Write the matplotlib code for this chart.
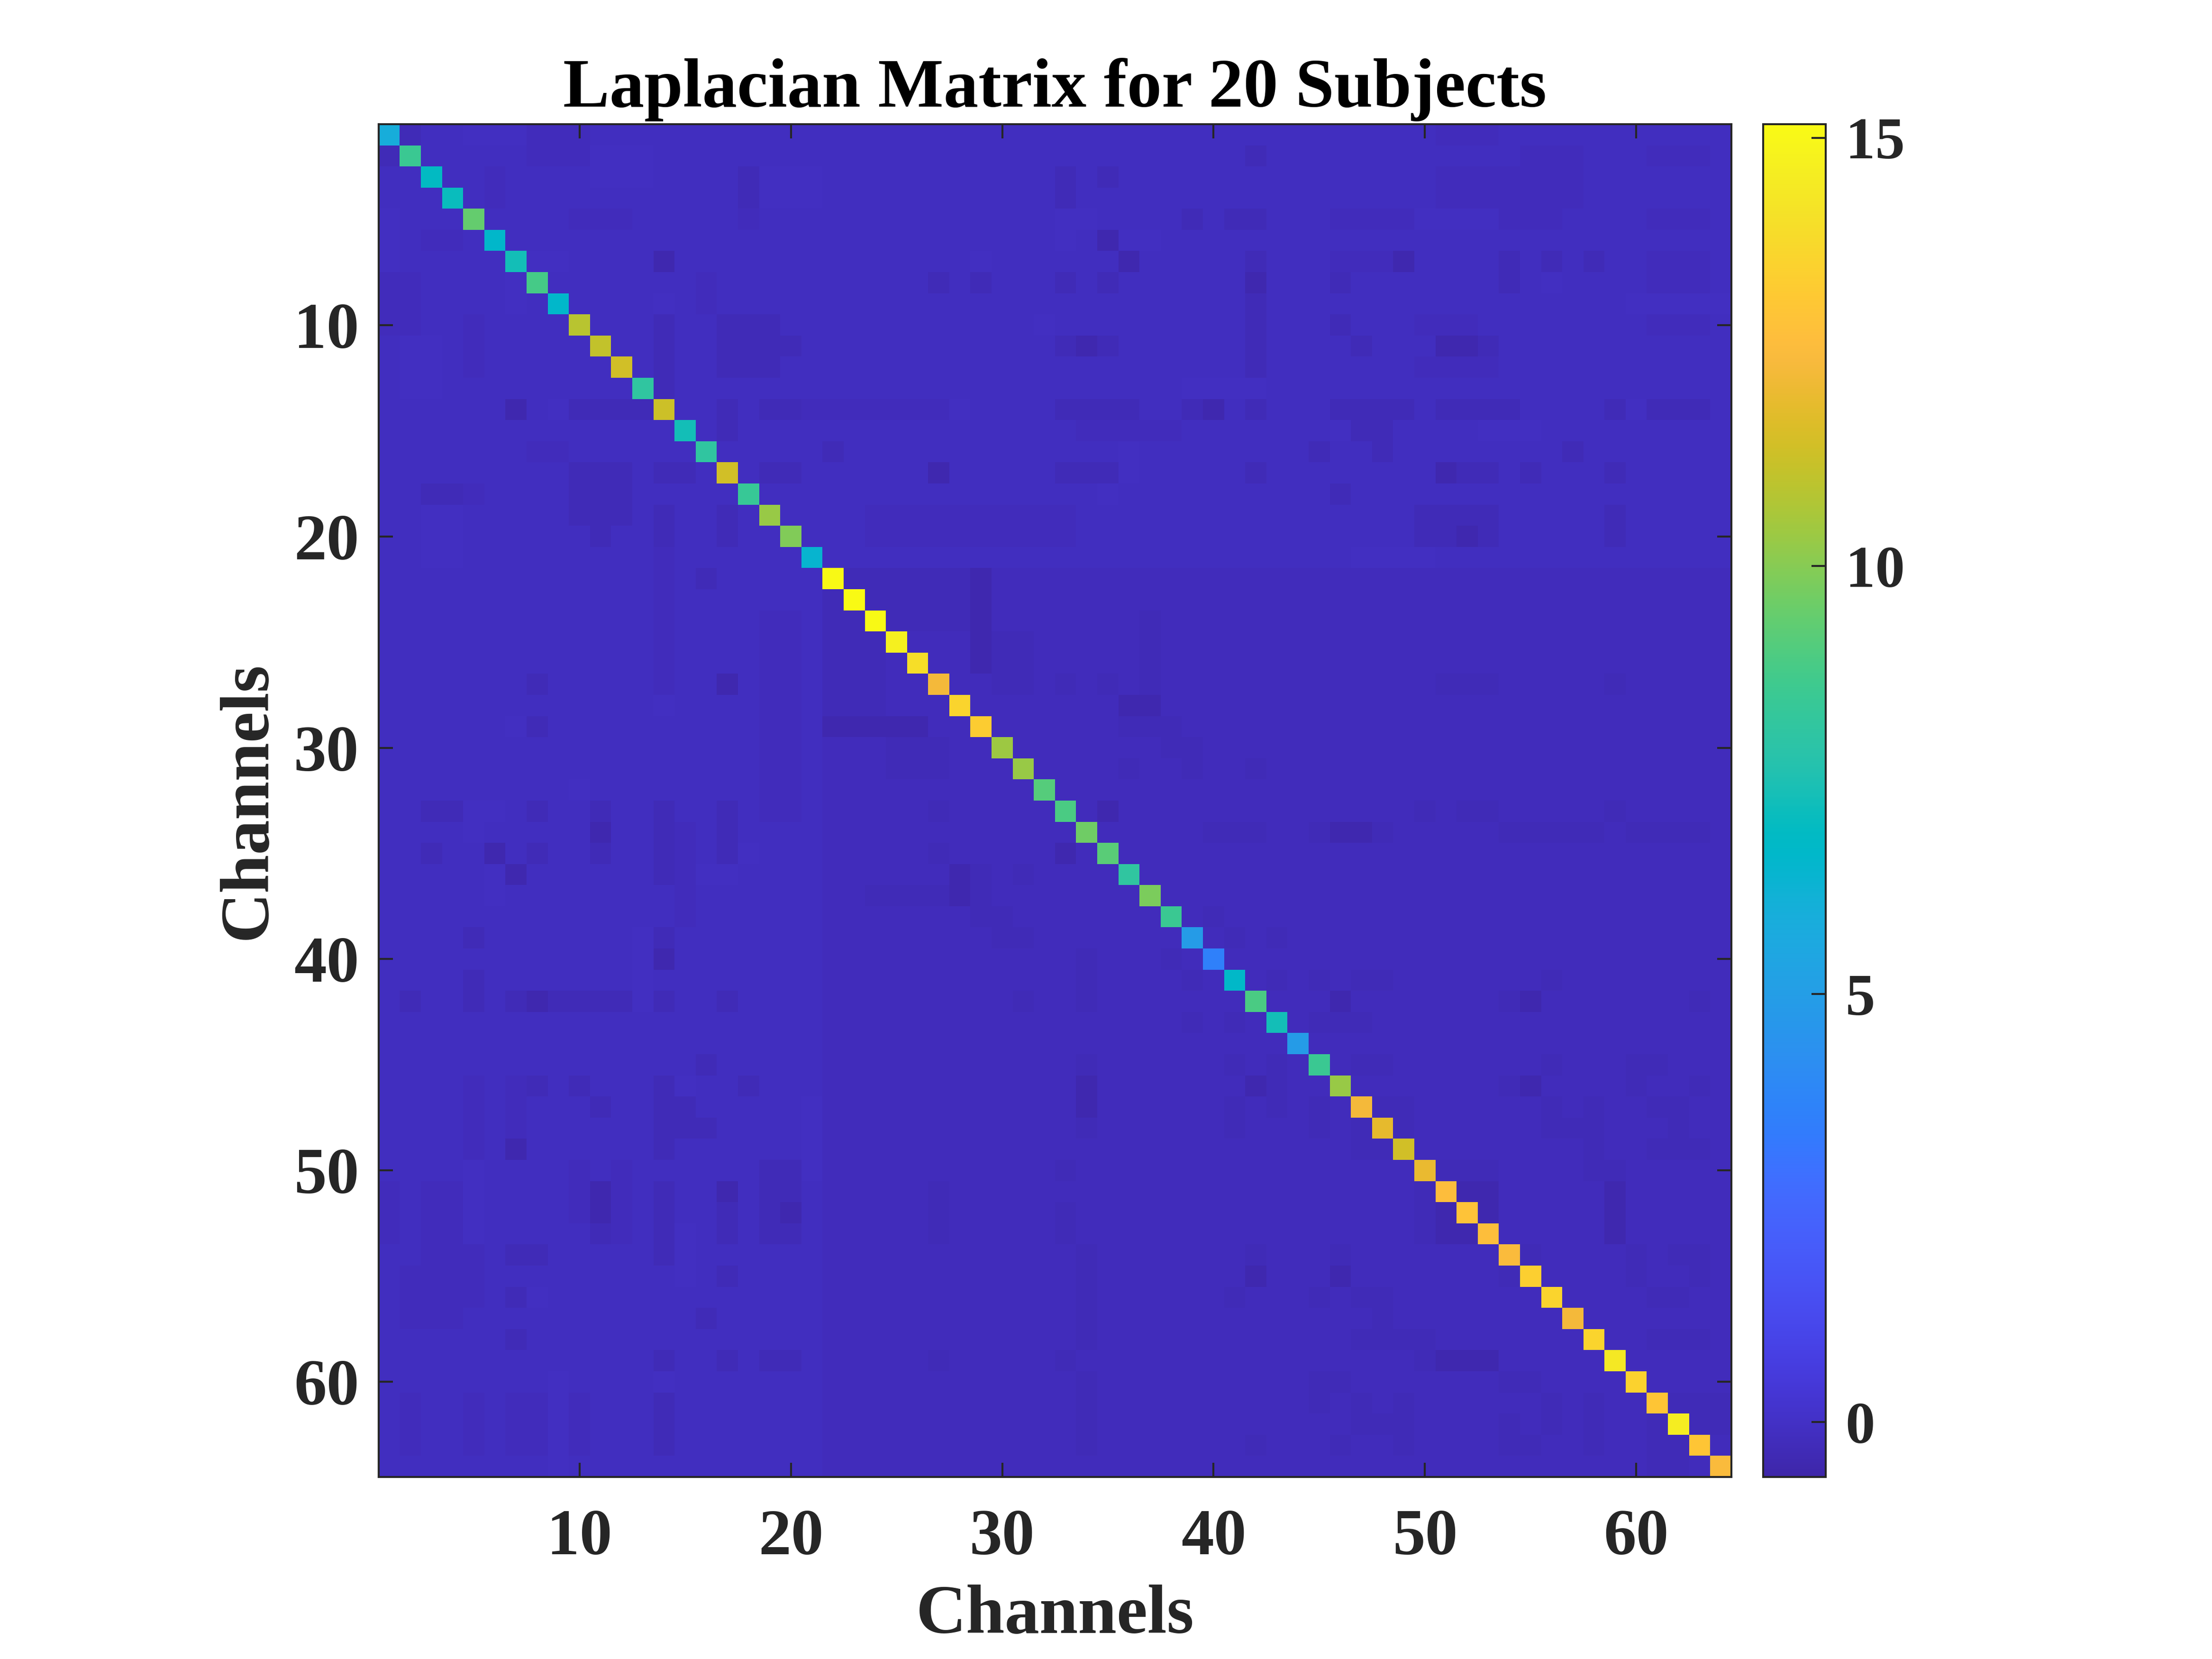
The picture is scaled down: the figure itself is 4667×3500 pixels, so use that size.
import numpy as np
import matplotlib
matplotlib.use("Agg")
import matplotlib.pyplot as plt
from matplotlib.colors import LinearSegmentedColormap

plt.rcParams['font.family'] = ['Liberation Serif', 'DejaVu Serif']
plt.rcParams['font.weight'] = 'bold'

W, H = 4667, 3500
TEXT = '#262626'

# old MATLAB parula
parula = [
    [0.2422, 0.1504, 0.6603], [0.2504, 0.1650, 0.7076], [0.2578, 0.1818, 0.7511], [0.2647, 0.1978, 0.7952],
    [0.2706, 0.2147, 0.8364], [0.2751, 0.2342, 0.8710], [0.2783, 0.2559, 0.8991], [0.2803, 0.2782, 0.9221],
    [0.2813, 0.3006, 0.9414], [0.2810, 0.3228, 0.9579], [0.2795, 0.3447, 0.9717], [0.2760, 0.3667, 0.9829],
    [0.2699, 0.3892, 0.9906], [0.2602, 0.4123, 0.9952], [0.2440, 0.4358, 0.9988], [0.2206, 0.4603, 0.9973],
    [0.1963, 0.4847, 0.9892], [0.1834, 0.5074, 0.9798], [0.1786, 0.5289, 0.9682], [0.1764, 0.5499, 0.9520],
    [0.1687, 0.5703, 0.9359], [0.1540, 0.5902, 0.9218], [0.1460, 0.6091, 0.9079], [0.1380, 0.6276, 0.8973],
    [0.1248, 0.6459, 0.8883], [0.1113, 0.6635, 0.8763], [0.0952, 0.6798, 0.8598], [0.0689, 0.6948, 0.8394],
    [0.0297, 0.7082, 0.8163], [0.0036, 0.7203, 0.7917], [0.0067, 0.7312, 0.7660], [0.0433, 0.7411, 0.7394],
    [0.0964, 0.7500, 0.7120], [0.1408, 0.7584, 0.6842], [0.1717, 0.7670, 0.6554], [0.1938, 0.7758, 0.6251],
    [0.2161, 0.7843, 0.5923], [0.2470, 0.7918, 0.5567], [0.2906, 0.7973, 0.5188], [0.3406, 0.8008, 0.4789],
    [0.3909, 0.8029, 0.4354], [0.4456, 0.8024, 0.3909], [0.5044, 0.7993, 0.3480], [0.5616, 0.7942, 0.3045],
    [0.6174, 0.7876, 0.2612], [0.6720, 0.7793, 0.2227], [0.7242, 0.7698, 0.1910], [0.7738, 0.7598, 0.1646],
    [0.8203, 0.7498, 0.1535], [0.8634, 0.7406, 0.1596], [0.9035, 0.7330, 0.1774], [0.9393, 0.7288, 0.2100],
    [0.9728, 0.7298, 0.2394], [0.9956, 0.7434, 0.2371], [0.9970, 0.7659, 0.2199], [0.9952, 0.7861, 0.1999],
    [0.9892, 0.8136, 0.1885], [0.9786, 0.8386, 0.1766], [0.9676, 0.8639, 0.1643], [0.9610, 0.8890, 0.1537],
    [0.9597, 0.9135, 0.1423], [0.9628, 0.9373, 0.1265], [0.9691, 0.9606, 0.1064], [0.9769, 0.9839, 0.0805],
]

title_text = 'Laplacian Matrix for 20 Subjects'
axis_label = 'Channels'
matrix_ticks = [10, 20, 30, 40, 50, 60]
cbar_ticks = [0, 5, 10, 15]
vmin, vmax = -0.64, 15.16

# diagonal, channels 1..64
diag_values = [
    5.9, 8.5, 6.9, 7.1, 9.4, 6.6, 7.3, 8.8, 6.6, 10.9, 11.1, 11.4, 8.1, 11.3, 7.3, 8.1,
    11.4, 8.4, 10.3, 9.9, 6.4, 15.1, 15.16, 15.1, 14.7, 14.0, 12.3, 13.6, 13.3, 10.4, 10.3, 9.1,
    8.9, 9.6, 9.2, 8.1, 9.8, 8.5, 4.9, 3.6, 6.7, 8.9, 7.3, 4.9, 8.5, 10.3, 12.3, 11.9,
    11.4, 12.0, 12.65, 12.9, 12.7, 12.5, 13.4, 13.6, 12.3, 13.6, 14.4, 13.5, 13.0, 14.6, 13.0, 12.5,
]

# off diagonal levels
bg_value = -0.14
light_value = -0.07
mid_value = -0.21
dark_value = -0.33
darkest_value = -0.48

# (row from, row to, col from, col to), 1-based, mirrored over the diagonal
light_cells = [
    (1, 1, 5, 7), (2, 3, 11, 13), (3, 4, 19, 21), (5, 5, 33, 34), (5, 5, 50, 53), (6, 6, 33, 33),
    (6, 6, 36, 37), (7, 7, 7, 9), (7, 7, 29, 29), (8, 8, 56, 56), (9, 9, 14, 14), (9, 9, 60, 64),
    (10, 10, 32, 32), (13, 13, 39, 42), (14, 14, 9, 9), (14, 14, 28, 28), (14, 14, 60, 60), (15, 15, 46, 46),
    (15, 15, 53, 55), (16, 17, 36, 36), (18, 18, 35, 35), (21, 21, 47, 50), (27, 27, 49, 49), (27, 27, 54, 54),
    (30, 30, 43, 43), (34, 34, 50, 50), (34, 34, 59, 59), (39, 39, 50, 50), (45, 45, 50, 53), (54, 55, 50, 51),
]
mid_cells = [
    (22, 64, 22, 64), (22, 29, 45, 64), (1, 1, 51, 53), (2, 2, 55, 57), (2, 2, 61, 63), (3, 4, 51, 57),
    (5, 5, 46, 49), (5, 5, 54, 56), (5, 5, 61, 63), (7, 7, 46, 48), (7, 7, 61, 63), (8, 8, 61, 63),
    (10, 10, 50, 52), (10, 10, 61, 63), (12, 12, 50, 53), (15, 15, 34, 38), (19, 20, 24, 33), (14, 14, 21, 27),
    (18, 18, 3, 5), (18, 18, 10, 12), (25, 26, 23, 33), (28, 29, 45, 48), (28, 29, 57, 58), (36, 36, 61, 63),
    (1, 2, 8, 10), (3, 4, 6, 6), (5, 5, 10, 12), (16, 16, 8, 9), (35, 35, 51, 53), (42, 42, 47, 47),
]
dark_cells = [
    (1, 1, 2, 2), (2, 2, 42, 42), (3, 4, 33, 33), (3, 3, 35, 35), (3, 4, 18, 18), (5, 5, 39, 39),
    (5, 5, 41, 42), (7, 12, 42, 42), (7, 7, 54, 54), (7, 7, 56, 56), (7, 7, 58, 58), (8, 8, 27, 27),
    (8, 8, 29, 29), (8, 8, 33, 33), (8, 8, 35, 35), (8, 8, 46, 46), (8, 8, 54, 54), (10, 12, 17, 19),
    (10, 10, 46, 46), (11, 11, 20, 20), (11, 11, 33, 33), (11, 11, 35, 35), (11, 11, 47, 47), (11, 11, 53, 53),
    (14, 14, 33, 36), (14, 14, 39, 39), (14, 14, 42, 42), (14, 14, 46, 49), (14, 14, 51, 54), (14, 14, 59, 59),
    (14, 14, 61, 63), (14, 14, 10, 13), (14, 14, 19, 20), (15, 15, 47, 48), (16, 16, 22, 22), (16, 16, 45, 45),
    (16, 16, 48, 48), (16, 16, 57, 57), (17, 17, 33, 35), (17, 17, 42, 42), (17, 17, 52, 53), (17, 17, 55, 55),
    (17, 17, 59, 59), (17, 17, 10, 12), (17, 17, 14, 15), (17, 17, 19, 20), (18, 18, 46, 46), (19, 19, 50, 53),
    (19, 20, 59, 59), (20, 20, 50, 51), (20, 20, 53, 53), (22, 24, 23, 29), (27, 27, 33, 33), (27, 27, 35, 35),
    (27, 27, 51, 53), (27, 27, 59, 59), (29, 29, 36, 37), (30, 31, 25, 27), (30, 30, 39, 39), (31, 31, 36, 36),
    (31, 31, 39, 39), (31, 31, 42, 42), (33, 33, 27, 27), (33, 33, 35, 35), (33, 33, 50, 50), (33, 33, 52, 53),
    (33, 33, 59, 59), (34, 34, 40, 42), (34, 34, 45, 48), (34, 34, 54, 58), (34, 34, 60, 63), (35, 35, 27, 27),
    (37, 37, 24, 28), (37, 37, 37, 37), (38, 38, 29, 30), (38, 38, 40, 40), (39, 39, 30, 31), (39, 39, 41, 41),
    (39, 39, 43, 43), (41, 41, 43, 43), (41, 41, 45, 45), (41, 41, 47, 48), (41, 41, 56, 56), (42, 42, 54, 54),
    (42, 42, 63, 63), (43, 43, 45, 45), (43, 43, 47, 47), (45, 45, 47, 48), (45, 45, 56, 56), (45, 45, 60, 61),
    (46, 46, 43, 43), (46, 46, 54, 55), (46, 46, 63, 63), (47, 47, 48, 49), (47, 47, 56, 56), (47, 47, 61, 62),
    (48, 48, 49, 49), (48, 48, 56, 57), (49, 49, 58, 58), (49, 49, 61, 63), (50, 50, 51, 53), (50, 50, 58, 59),
    (54, 54, 46, 46), (54, 54, 55, 55), (54, 54, 60, 60), (55, 55, 60, 60), (55, 55, 63, 63), (56, 56, 47, 48),
    (56, 56, 61, 62), (57, 57, 48, 48), (58, 58, 47, 50), (58, 58, 61, 63), (59, 59, 50, 53), (60, 60, 45, 46),
    (60, 60, 54, 55), (61, 61, 45, 45), (61, 61, 47, 47), (61, 61, 49, 49), (61, 61, 56, 56), (61, 61, 62, 64),
    (62, 62, 47, 49), (62, 62, 54, 54), (62, 62, 56, 56), (62, 62, 58, 58), (62, 62, 63, 64), (63, 63, 46, 46),
    (63, 63, 54, 55),
]
darkest_cells = [
    (6, 6, 35, 35), (7, 7, 36, 36), (7, 7, 14, 14), (7, 7, 49, 49), (8, 8, 42, 42), (11, 11, 34, 34),
    (11, 11, 51, 52), (14, 14, 40, 40), (17, 17, 51, 51), (17, 17, 27, 27), (20, 20, 52, 52), (28, 28, 36, 37),
    (29, 29, 22, 26), (34, 34, 46, 47), (35, 35, 33, 33), (42, 42, 46, 46), (42, 42, 55, 55), (51, 53, 59, 59),
    (51, 51, 52, 53), (52, 52, 53, 53), (55, 55, 46, 46), (59, 59, 52, 53),
]

L = np.full((64, 64), bg_value)
for cells, val in [(light_cells, light_value), (mid_cells, mid_value), (dark_cells, dark_value), (darkest_cells, darkest_value)]:
    for r1, r2, c1, c2 in cells:
        L[r1 - 1:r2, c1 - 1:c2] = val
        L[c1 - 1:c2, r1 - 1:r2] = val
np.fill_diagonal(L, diag_values)


def px_axes(fig, x0, x1, y0, y1):
    return fig.add_axes([x0 / W, 1 - y1 / H, (x1 - x0) / W, (y1 - y0) / H])


def style_box(ax):
    for s in ax.spines.values():
        s.set_linewidth(1.0)
        s.set_color(TEXT)


cmap = LinearSegmentedColormap.from_list('parula', parula, N=1024)

fig = plt.figure(figsize=(W / 300, H / 300), dpi=300)
ax = px_axes(fig, 799, 3653, 262, 3116)
cax = px_axes(fig, 3720, 3852, 262, 3116)

im = ax.imshow(L, cmap=cmap, vmin=vmin, vmax=vmax, aspect='auto',
               interpolation='nearest', extent=(0.5, 64.5, 64.5, 0.5))
ax.set_xticks(matrix_ticks)
ax.set_yticks(matrix_ticks)
ax.tick_params(direction='in', top=True, right=True, length=7.2, width=1.0, color=TEXT,
               labelsize=33, labelcolor=TEXT)
ax.tick_params(axis='x', pad=16)
ax.tick_params(axis='y', pad=10)
ax.set_title(title_text, fontsize=35.2, fontweight='bold', color='black', pad=9)
ax.set_xlabel(axis_label, fontsize=35.2, fontweight='bold', color=TEXT, labelpad=8.5)
ax.set_ylabel(axis_label, fontsize=35.2, fontweight='bold', color=TEXT, labelpad=7)
style_box(ax)

cb = fig.colorbar(im, cax=cax)
cb.set_ticks(cbar_ticks)
cax.tick_params(direction='in', length=7.2, width=1.0, color=TEXT, labelsize=30, labelcolor=TEXT, pad=10)
cb.outline.set_linewidth(1.0)
cb.outline.set_edgecolor(TEXT)

fig.savefig('out.png', dpi=300, facecolor='white')
